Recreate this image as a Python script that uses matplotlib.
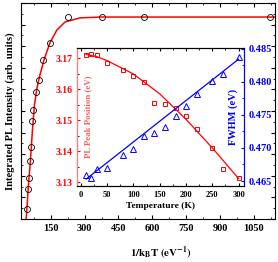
import matplotlib
matplotlib.use("Agg")
import matplotlib.pyplot as plt
from matplotlib.ticker import MultipleLocator

plt.rcParams['font.family'] = ['Liberation Serif', 'DejaVu Serif']
plt.rcParams['font.weight'] = 'bold'
plt.rcParams['mathtext.fontset'] = 'stix'

# temperatures (K) of the measurements
temps = [10, 20, 30, 50, 80, 100, 120, 140, 160, 180, 200, 220, 250, 270, 300]
# 1/kBT (eV^-1) as placed in the main panel
inv_kt = [1122, 563, 377, 226, 146, 116.6, 99, 84, 72.3, 67.8, 62, 57.6, 51.9, 48.8, 43]

# integrated PL intensity (arb. units)
intensity = [0.935, 0.935, 0.935, 0.935, 0.815, 0.736, 0.644, 0.588, 0.505, 0.455,
             0.333, 0.269, 0.190, 0.139, 0.046]

# fit curve of the intensity
fit_x = [41, 44, 51, 60, 68.7, 77.6, 88.7, 102, 119.7, 146, 177, 213, 279, 368, 1150]
fit_y = [0.0, 0.046, 0.157, 0.273, 0.412, 0.528, 0.606, 0.667, 0.736, 0.815, 0.875,
         0.912, 0.931, 0.935, 0.935]

# inset: PL peak position (eV) and FWHM (eV)
peak_pos = [3.1709, 3.1713, 3.171, 3.1684, 3.1663, 3.1644, 3.1623, 3.1557, 3.1553,
            3.1539, 3.1513, 3.1472, 3.1412, 3.1344, 3.1313]
fwhm = [0.4659, 0.4655, 0.4668, 0.4670, 0.4689, 0.4698, 0.4718, 0.4722, 0.4731,
        0.4748, 0.4764, 0.4782, 0.4801, 0.4812, 0.4837]

peak_fit_t = [10, 30, 50, 100, 150, 200, 250, 300]
peak_fit_e = [3.1712, 3.1705, 3.1692, 3.1649, 3.1585, 3.1503, 3.1411, 3.1312]
fwhm_fit_t = [10, 300]
fwhm_fit_e = [0.4653, 0.4834]

fig = plt.figure(figsize=(2.78, 2.62), dpi=100)
ax = fig.add_axes([0.0755, 0.164, 0.914, 0.8245])

ax.plot(fit_x, fit_y, color='red', lw=1.1)
ax.plot(inv_kt, intensity, 'o', mfc='none', mec='black', ms=4.3, mew=0.6, clip_on=False)
ax.set_xlim(18, 1144)
ax.set_ylim(0, 1)
ax.xaxis.set_minor_locator(MultipleLocator(75))
ax.yaxis.set_major_locator(MultipleLocator(0.1))
ax.yaxis.set_minor_locator(MultipleLocator(0.05))
ax.tick_params(which='both', direction='in', top=True, right=True, labelsize=7.5)
ax.tick_params(which='major', length=3)
ax.tick_params(which='minor', length=1.5)
ax.set_yticklabels([])
xt = [150, 300, 450, 600, 750, 900, 1050]
ax.set_xticks(xt)
ax.set_xticklabels([str(v) for v in xt], fontweight='bold')
ax.set_xlabel(r'$\mathbf{1/k_BT\ (eV^{-1})}$', fontsize=7.8, va='center')
ax.xaxis.set_label_coords(0.551, -0.156)
ax.set_ylabel('Integrated PL Intensity (arb. units)', fontsize=7.6, fontweight='bold', labelpad=1)

# inset
ins = fig.add_axes([0.277, 0.290, 0.600, 0.527])
ins.plot(peak_fit_t, peak_fit_e, color='red', lw=0.9)
ins.plot(temps, peak_pos, 's', mfc='none', mec='red', ms=3.2, mew=0.7)
ins.set_xlim(-7.5, 310)
ins.set_ylim(3.1288, 3.1733)
ins.xaxis.set_minor_locator(MultipleLocator(25))
ins.yaxis.set_minor_locator(MultipleLocator(0.005))
ins.tick_params(which='both', direction='in', top=True)
ins.tick_params(which='major', length=2.5)
ins.tick_params(which='minor', length=1.2)
ins.tick_params(axis='x', labelsize=6)
ins.tick_params(axis='y', colors='red', labelsize=7)
ins.set_yticks([3.13, 3.14, 3.15, 3.16, 3.17])
ins.set_yticklabels(['3.13', '3.14', '3.15', '3.16', '3.17'], fontweight='bold')
ins.set_xticks([0, 50, 100, 150, 200, 250, 300])
ins.set_xticklabels(['0', '50', '100', '150', '200', '250', '300'], fontweight='bold')
ins.set_xlabel('Temperature (K)', fontsize=6.8, fontweight='bold', labelpad=2)
ins.set_ylabel('PL Peak Position (eV)', fontsize=6.3, fontweight='bold', color='#ff6060')
ins.yaxis.set_label_coords(0.092, 0.5)

ins2 = ins.twinx()
ins2.plot(fwhm_fit_t, fwhm_fit_e, color='blue', lw=0.9)
ins2.plot(temps, fwhm, '^', mfc='none', mec='blue', ms=3.8, mew=0.7)
ins2.set_ylim(0.46425, 0.4851)
ins2.yaxis.set_minor_locator(MultipleLocator(0.0025))
ins2.tick_params(which='both', direction='in', colors='blue', labelsize=7.5)
ins2.tick_params(which='major', length=2.5)
ins2.tick_params(which='minor', length=1.2)
ins2.spines['right'].set_color('blue')
ins2.spines['left'].set_color('#ff8080')
ins2.set_yticks([0.465, 0.470, 0.475, 0.480, 0.485])
ins2.set_yticklabels(['0.465', '0.470', '0.475', '0.480', '0.485'], fontweight='bold')
ins2.set_ylabel('FWHM (eV)', fontsize=7.5, fontweight='bold', color='blue')
ins2.yaxis.set_label_coords(0.905, 0.5)

fig.savefig('out.png', dpi=100)
